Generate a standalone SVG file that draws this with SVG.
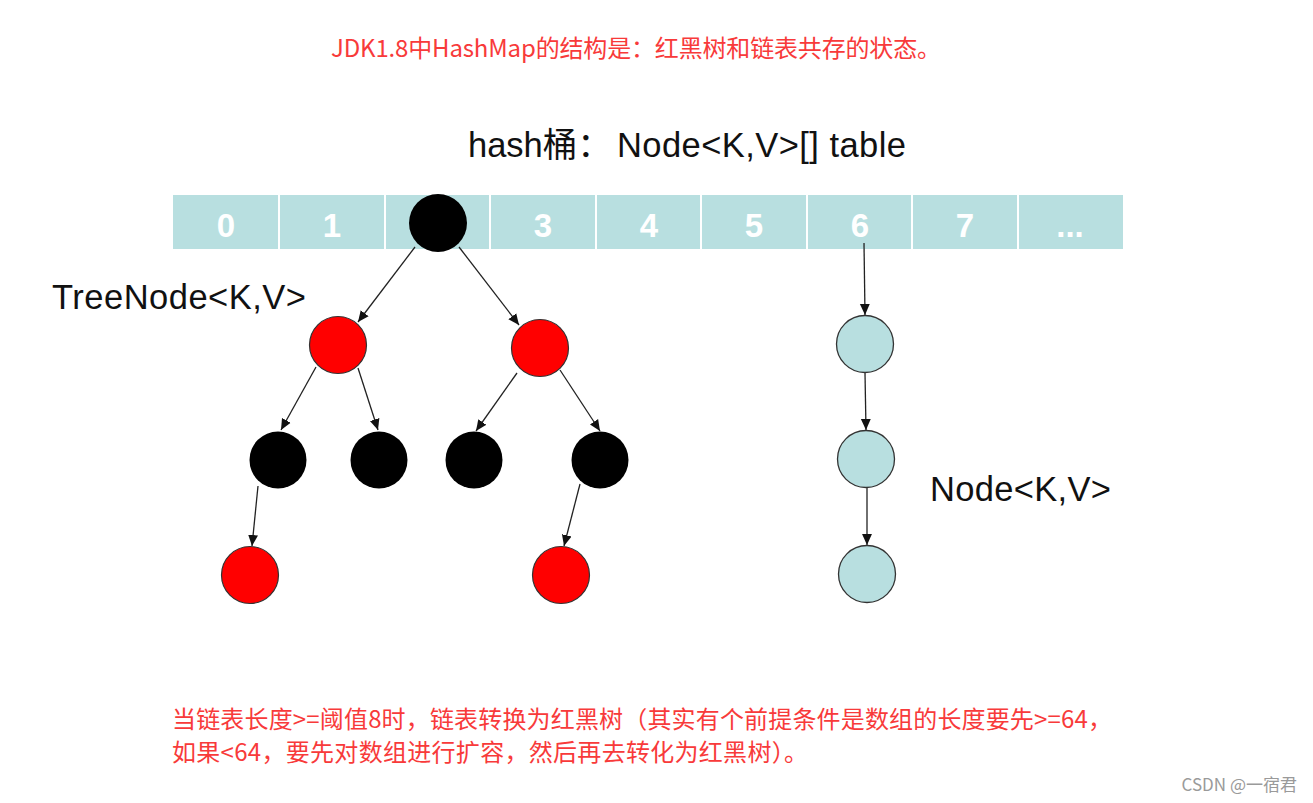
<svg xmlns="http://www.w3.org/2000/svg" width="1313" height="803" viewBox="0 0 1313 803">
  <defs>
    <marker id="arr" viewBox="0 0 10 10" refX="10" refY="5" markerWidth="11" markerHeight="11" markerUnits="userSpaceOnUse" orient="auto">
      <path d="M0,0.5 L10,5 L0,9.5 z" fill="#111"/>
    </marker>
    <style>
      .red { font-family: "Noto Sans CJK SC", "Noto Sans", sans-serif; font-size: 24px; fill: #f83a3a; }
      .lbl { font-family: "Liberation Sans", Arial, "Noto Sans CJK SC", sans-serif; font-size: 34.5px; fill: #111; }
      .idx { font-family: "Liberation Sans", Arial, sans-serif; font-size: 33px; font-weight: bold; fill: #ffffff; text-anchor: middle; }
      .cell { fill: #b8dfe0; }
      .sep { stroke: #ffffff; stroke-width: 2; }
      .rb { fill: #ff0000; stroke: #333; stroke-width: 1.2; }
      .bk { fill: #000000; }
      .ln { fill: #b8dfe0; stroke: #333; stroke-width: 1.3; }
      .edge { stroke: #222; stroke-width: 1.3; fill: none; marker-end: url(#arr); }
      .wm { font-family: "Noto Sans CJK SC", "Noto Sans", sans-serif; font-size: 17px; fill: #9a9a9a; text-anchor: end; }
    </style>
  </defs>
  <rect width="1313" height="803" fill="#ffffff"/>

  <text class="red" x="331" y="57" textLength="610" lengthAdjust="spacing">JDK1.8中HashMap的结构是：红黑树和链表共存的状态。</text>

  <g id="table-title">
    <text class="lbl" x="468" y="157">hash桶：</text>
    <text class="lbl" x="617" y="157" textLength="289" lengthAdjust="spacing">Node&lt;K,V&gt;[] table</text>
  </g>

  <g id="table">
    <rect class="cell" x="173" y="195" width="950" height="54"/>
    <line class="sep" x1="279" y1="195" x2="279" y2="249"/>
    <line class="sep" x1="385" y1="195" x2="385" y2="249"/>
    <line class="sep" x1="490" y1="195" x2="490" y2="249"/>
    <line class="sep" x1="596" y1="195" x2="596" y2="249"/>
    <line class="sep" x1="701" y1="195" x2="701" y2="249"/>
    <line class="sep" x1="807" y1="195" x2="807" y2="249"/>
    <line class="sep" x1="912" y1="195" x2="912" y2="249"/>
    <line class="sep" x1="1018" y1="195" x2="1018" y2="249"/>
    <text class="idx" x="226" y="237">0</text>
    <text class="idx" x="332" y="237">1</text>
    <text class="idx" x="543" y="237">3</text>
    <text class="idx" x="649" y="237">4</text>
    <text class="idx" x="754" y="237">5</text>
    <text class="idx" x="860" y="237">6</text>
    <text class="idx" x="965" y="237">7</text>
    <text class="idx" x="1070" y="237">...</text>
  </g>

  <g id="treenode-label">
    <text class="lbl" x="52" y="309" textLength="254" lengthAdjust="spacing">TreeNode&lt;K,V&gt;</text>
  </g>
  <g id="node-label">
    <text class="lbl" x="930" y="501" textLength="181" lengthAdjust="spacing">Node&lt;K,V&gt;</text>
  </g>

  <g id="connectors">
    <line class="edge" x1="415" y1="247" x2="358" y2="322"/>
    <line class="edge" x1="459" y1="247" x2="519" y2="325"/>
    <line class="edge" x1="316" y1="367" x2="281" y2="430"/>
    <line class="edge" x1="358" y1="368" x2="378" y2="430"/>
    <line class="edge" x1="517" y1="373" x2="476" y2="431"/>
    <line class="edge" x1="560" y1="370" x2="600" y2="431"/>
    <line class="edge" x1="258" y1="486" x2="252" y2="546"/>
    <line class="edge" x1="580" y1="484" x2="564" y2="546"/>
    <line class="edge" x1="864" y1="243" x2="865" y2="315"/>
    <line class="edge" x1="865" y1="373" x2="866" y2="430"/>
    <line class="edge" x1="867" y1="488" x2="867" y2="545"/>
  </g>

  <g id="root"><circle class="bk" cx="438" cy="223" r="29"/></g>
  <g id="red-left"><circle class="rb" cx="338" cy="345" r="28.5"/></g>
  <g id="red-right"><circle class="rb" cx="540" cy="348" r="28.5"/></g>
  <g id="black-1"><circle class="bk" cx="278" cy="460" r="28.5"/></g>
  <g id="black-2"><circle class="bk" cx="379" cy="460" r="28.5"/></g>
  <g id="black-3"><circle class="bk" cx="474" cy="460" r="28.5"/></g>
  <g id="black-4"><circle class="bk" cx="600" cy="460" r="28.5"/></g>
  <g id="red-leaf-left"><circle class="rb" cx="250" cy="575" r="28.5"/></g>
  <g id="red-leaf-right"><circle class="rb" cx="561" cy="575" r="28.5"/></g>

  <g id="list-1"><circle class="ln" cx="865" cy="344" r="28.5"/></g>
  <g id="list-2"><circle class="ln" cx="866" cy="459" r="28.5"/></g>
  <g id="list-3"><circle class="ln" cx="867" cy="574" r="28.5"/></g>

  <g id="note">
    <text class="red" x="172" y="728" textLength="940" lengthAdjust="spacing">当链表长度&gt;=阈值8时，链表转换为红黑树（其实有个前提条件是数组的长度要先&gt;=64，</text>
    <text class="red" x="172" y="761" textLength="636" lengthAdjust="spacing">如果&lt;64，要先对数组进行扩容，然后再去转化为红黑树）。</text>
  </g>

  <text class="wm" x="1297" y="791">CSDN @一宿君</text>
</svg>
